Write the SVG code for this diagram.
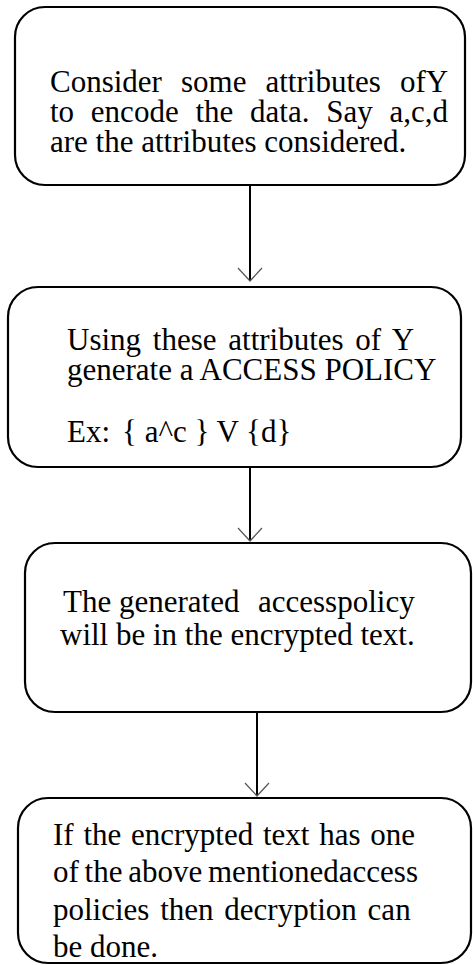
<svg xmlns="http://www.w3.org/2000/svg" width="473" height="965" viewBox="0 0 473 965">
<style>
.box{fill:#fff;stroke:#000;stroke-width:2.2}
.t{font-family:"Liberation Serif","Times New Roman",serif;font-size:31px;fill:#000}
.conn{stroke:#000;stroke-width:2;fill:none}
</style>
<defs>
<marker id="arr" markerUnits="userSpaceOnUse" markerWidth="30" markerHeight="30" viewBox="-15 -15 30 30" refX="0" refY="0" orient="auto" overflow="visible">
<path d="M-13,-12 L0,0 L-13,12" fill="none" stroke="#555" stroke-width="1.2"/>
</marker>
</defs>
<rect width="473" height="965" fill="#fff"/>
<g id="connectors">
<line class="conn" x1="250" y1="186" x2="250" y2="281" marker-end="url(#arr)"/>
<line class="conn" x1="250" y1="456" x2="250" y2="541" marker-end="url(#arr)"/>
<line class="conn" x1="257" y1="711" x2="257" y2="796" marker-end="url(#arr)"/>
</g>
<g id="node1">
<rect class="box" x="15" y="7" width="450" height="178" rx="30" ry="30"/>
<text class="t" x="50" y="92" word-spacing="11.3">Consider some attributes ofY</text>
<text class="t" x="50" y="122" word-spacing="9">to encode the data. Say a,c,d</text>
<text class="t" x="50" y="152">are the attributes considered.</text>
</g>
<g id="node2">
<rect class="box" x="8" y="287" width="453" height="180" rx="30" ry="30"/>
<text class="t" x="67" y="350" word-spacing="4">Using these attributes of Y</text>
<text class="t" x="67" y="380">generate a ACCESS POLICY</text>
<text class="t" y="442"><tspan x="67">Ex:</tspan><tspan x="122">{ a^c } V {d}</tspan></text>
</g>
<g id="node3">
<rect class="box" x="25" y="543" width="446" height="169" rx="30" ry="30"/>
<text class="t" y="612"><tspan x="63">The generated</tspan><tspan x="258">accesspolicy</tspan></text>
<text class="t" x="60" y="645">will be in the encrypted text.</text>
</g>
<g id="node4">
<rect class="box" x="18" y="798" width="453" height="165" rx="30" ry="30"/>
<text class="t" x="53" y="845" word-spacing="2">If the encrypted text has one</text>
<text class="t" x="53" y="882" word-spacing="-2">of the above mentionedaccess</text>
<text class="t" x="53" y="920" word-spacing="3">policies then decryption can</text>
<text class="t" x="53" y="957">be done.</text>
</g>
</svg>
